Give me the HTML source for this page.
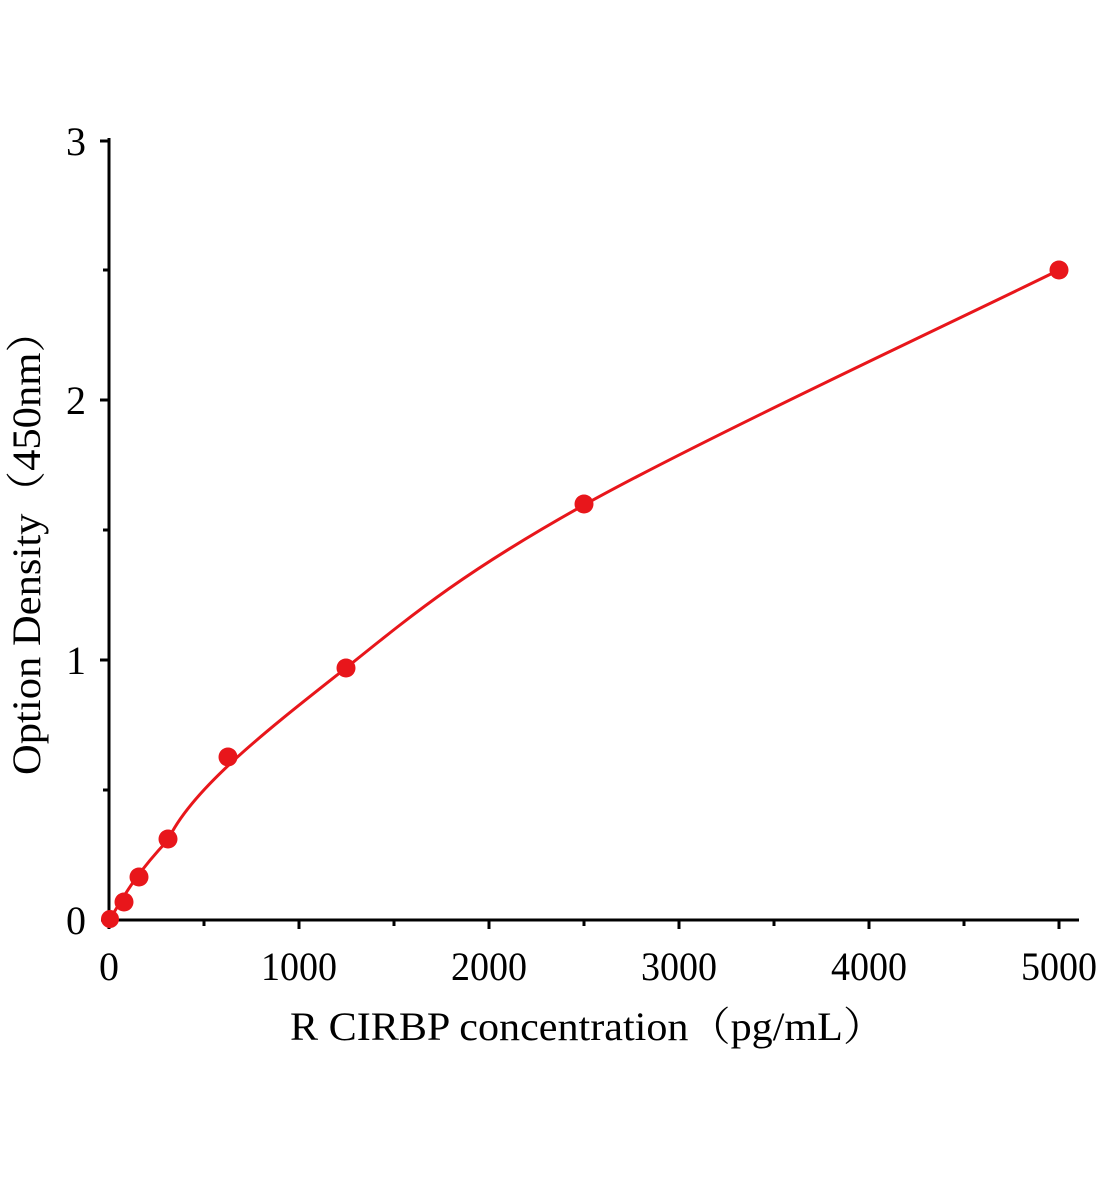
<!DOCTYPE html>
<html><head><meta charset="utf-8"><style>
html,body{margin:0;padding:0;background:#fff;}
svg{display:block;}
text{font-family:"Liberation Serif","Noto Serif CJK SC",serif;fill:#000;}
</style></head><body>
<svg width="1104" height="1200" viewBox="0 0 1104 1200" xmlns="http://www.w3.org/2000/svg">
<g stroke="#000" stroke-width="3" fill="none">
<line x1="109" y1="138" x2="109" y2="921"/>
<line x1="101" y1="920" x2="1079" y2="920"/>
<line x1="109" y1="920" x2="109" y2="929"/>
<line x1="204" y1="920" x2="204" y2="926"/>
<line x1="299" y1="920" x2="299" y2="929"/>
<line x1="394" y1="920" x2="394" y2="926"/>
<line x1="489" y1="920" x2="489" y2="929"/>
<line x1="584" y1="920" x2="584" y2="926"/>
<line x1="679" y1="920" x2="679" y2="929"/>
<line x1="774" y1="920" x2="774" y2="926"/>
<line x1="869" y1="920" x2="869" y2="929"/>
<line x1="964" y1="920" x2="964" y2="926"/>
<line x1="1059" y1="920" x2="1059" y2="929"/>
<line x1="100" y1="141" x2="109" y2="141"/>
<line x1="103" y1="270" x2="109" y2="270"/>
<line x1="100" y1="400" x2="109" y2="400"/>
<line x1="103" y1="530" x2="109" y2="530"/>
<line x1="100" y1="660" x2="109" y2="660"/>
<line x1="103" y1="790" x2="109" y2="790"/>
</g>
<g font-size="40" text-anchor="end">
<text x="86" y="155">3</text>
<text x="86" y="414">2</text>
<text x="86" y="674">1</text>
<text x="86" y="934">0</text>
</g>
<g font-size="40">
<text x="109" y="980" text-anchor="middle">0</text>
<text x="261" y="980" textLength="76" lengthAdjust="spacingAndGlyphs">1000</text>
<text x="451" y="980" textLength="76" lengthAdjust="spacingAndGlyphs">2000</text>
<text x="641" y="980" textLength="76" lengthAdjust="spacingAndGlyphs">3000</text>
<text x="831" y="980" textLength="76" lengthAdjust="spacingAndGlyphs">4000</text>
<text x="1021" y="980" textLength="76" lengthAdjust="spacingAndGlyphs">5000</text>
</g>
<text x="290" y="1040" font-size="40" textLength="595" lengthAdjust="spacingAndGlyphs">R CIRBP concentration（pg/mL）</text>
<text transform="translate(40,775) rotate(-90)" font-size="40" textLength="465" lengthAdjust="spacingAndGlyphs">Option Density（450nm）</text>
<path fill="none" stroke="#e8161b" stroke-width="3" d="M109,920 C118.8,906.7 128.5,882 168,840 C192,788 270,728 346,668 C415.3,612.2 465.2,571.3 584,505 C702.8,438.7 979.8,309.2 1059,270"/>
<g fill="#e8161b">
<circle cx="110" cy="919" r="9"/>
<circle cx="124" cy="902" r="9.5"/>
<circle cx="139" cy="877" r="9.5"/>
<circle cx="168" cy="839" r="9.5"/>
<circle cx="228" cy="757" r="9.5"/>
<circle cx="346" cy="668" r="9.5"/>
<circle cx="584" cy="504" r="9.5"/>
<circle cx="1059" cy="270" r="9.5"/>
</g>
</svg>
</body></html>
